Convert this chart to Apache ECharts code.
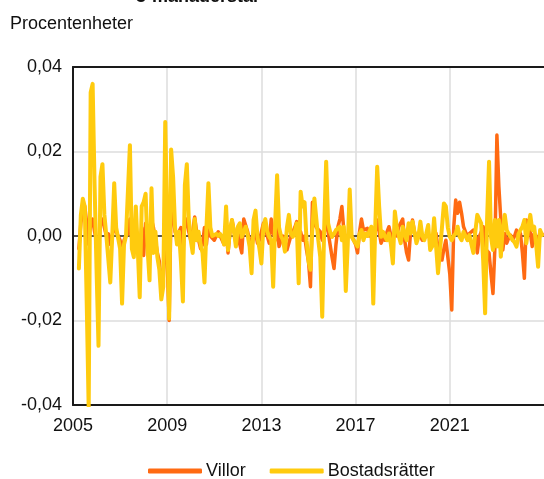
<!DOCTYPE html>
<html>
<head>
<meta charset="utf-8">
<script src="https://cdn.jsdelivr.net/npm/echarts@6/dist/echarts.min.js"></script>
<style>
  html, body { margin: 0; padding: 0; background: #fff; }
  #chart { width: 544px; height: 479px; }
</style>
</head>
<body>
<div id="chart"></div>
<script>
// Monthly observations, first month April 2005
const startYear = 2005;
const startMonth = 4;

// Villor, procentenheter
const villor = [
  -0.003, 0.003, 0.006, 0.007, 0.003, -0.002, 0.003, 0.004, 0.001, -0.001,
  -0.003, 0.003, 0.004, 0.002, 0.0, 0.0005, -0.002, 0.0, 0.003, 0.001,
  0.0, -0.001, -0.004, -0.001, 0.0, 0.0005, 0.004, -0.001, -0.002, 0.002,
  -0.001, -0.004, 0.002, -0.0046, 0.003, -0.001, -0.003, 0.004, 0.002, -0.001,
  -0.004, -0.006, -0.013, -0.01, 0.004, -0.006, -0.02, 0.008, 0.005, 0.001,
  0.0, 0.001, 0.002, -0.004, 0.003, 0.004, 0.001, -0.001, 0.001, 0.0045,
  0.001, -0.001, -0.003, -0.002, 0.002, -0.002, 0.003, 0.0, 0.0, -0.001,
  0.0, 0.001, 0.0, -0.001, -0.002, 0.002, -0.004, 0.001, 0.0038, 0.004,
  -0.001, 0.001, -0.002, -0.004, 0.004, 0.004, 0.001, 0.0014, -0.003, 0.0,
  0.001, -0.0017, -0.001, 0.001, 0.003, 0.002, 0.0, -0.0017, 0.004, 0.001,
  -0.001, 0.002, -0.0025, -0.001, 0.0, -0.002, -0.0033, -0.003, 0.0, 0.001,
  0.002, 0.0034, -0.001, 0.001, -0.001, 0.0, -0.0033, -0.006, -0.012, 0.008,
  0.003, 0.002, 0.0022, 0.001, -0.001, 0.001, 0.003, 0.001, -0.002, -0.005,
  -0.0077, -0.002, 0.0022, 0.004, 0.007, 0.0014, -0.001, 0.0, 0.0006, 0.0,
  -0.0002, -0.002, -0.004, 0.001, 0.004, 0.0014, 0.001, 0.0018, 0.0, 0.001,
  -0.0002, 0.001, 0.0038, 0.001, -0.0017, -0.0005, -0.001, 0.001, 0.0022, 0.0,
  -0.001, 0.001, 0.0, 0.0022, 0.002, 0.004, -0.001, -0.004, -0.0057, 0.001,
  0.0038, 0.001, -0.0002, -0.0002, 0.0, -0.001, -0.0005, 0.0, 0.0006, -0.001,
  0.0, 0.0, 0.0006, -0.003, -0.004, -0.0057, -0.003, -0.001, -0.001, -0.009,
  -0.0175, 0.002, 0.0085, 0.0054, 0.008, 0.0054, 0.0022, 0.001, -0.0002, 0.0006,
  0.0006, 0.0014, 0.0005, -0.004, -0.0002, 0.001, 0.0022, -0.003, -0.003, -0.004,
  -0.009, -0.0136, -0.0025, 0.0239, 0.0117, 0.0038, -0.0033, 0.0006, -0.0017, -0.0005,
  0.0002, -0.001, 0.0, 0.0014, 0.0, 0.0006, -0.004, -0.01, 0.0038, 0.003,
  0.001, -0.0025, 0.0006, -0.0002, -0.001, 0.001, 0.0005
];

// Bostadsrätter, procentenheter
const bostadsratter = [
  -0.0077, 0.005, 0.0088, 0.007, -0.016, -0.041, 0.034, 0.036, 0.012, -0.008,
  -0.026, 0.014, 0.017, 0.005, 0.0, 0.0, -0.011, 0.0, 0.0125, 0.002,
  -0.0005, -0.003, -0.016, -0.002, 0.0, 0.0, 0.0215, -0.003, -0.005, 0.007,
  -0.003, -0.0145, 0.007, 0.008, 0.01, -0.003, -0.0105, 0.0113, -0.004, 0.001,
  -0.005, -0.008, -0.015, -0.012, 0.027, 0.002, -0.0195, 0.0205, 0.014, 0.002,
  -0.002, 0.001, -0.006, -0.0155, 0.012, 0.017, 0.004, -0.001, -0.004, 0.004,
  -0.001, 0.001, -0.002, -0.004, -0.011, 0.002, 0.0125, 0.002, 0.0, 0.0,
  0.0005, 0.0, 0.0005, -0.0003, -0.002, 0.007, -0.0033, 0.0014, 0.0038, 0.001,
  -0.0025, 0.0022, 0.003, -0.0002, 0.001, 0.0022, 0.0002, -0.0025, -0.0088, 0.0038,
  0.006, -0.0002, -0.003, -0.0065, 0.0022, 0.004, 0.001, -0.0002, -0.001, -0.012,
  0.003, 0.0144, 0.002, 0.0, -0.001, -0.0037, 0.002, 0.005, 0.0006, -0.0002,
  0.001, 0.003, -0.0112, 0.0105, 0.007, 0.008, -0.001, -0.006, -0.008, 0.002,
  0.0089, 0.004, -0.001, -0.005, -0.0191, 0.002, 0.0176, 0.003, 0.001, -0.0002,
  0.0005, 0.0014, 0.001, 0.0022, -0.001, 0.0022, -0.013, -0.002, 0.011, -0.0002,
  -0.001, -0.0017, -0.0025, 0.0005, 0.0014, -0.001, 0.0006, 0.0, -0.0002, 0.0022,
  -0.016, 0.002, 0.0164, 0.007, -0.0002, 0.001, -0.0002, -0.001, 0.0006, -0.002,
  -0.0065, 0.0058, 0.002, 0.0, -0.0017, 0.0022, 0.0005, -0.001, 0.003, 0.0006,
  0.0034, 0.001, -0.0017, -0.0002, 0.0034, 0.0, -0.001, 0.0006, 0.0026, -0.0033,
  -0.0025, 0.0042, 0.0038, -0.0088, -0.0092, 0.002, 0.0077, 0.007, 0.002, -0.0002,
  -0.001, 0.0, 0.0006, 0.0022, -0.0002, -0.001, 0.001, 0.0, -0.001, 0.0002,
  -0.002, -0.004, 0.001, 0.005, 0.004, 0.003, -0.0057, -0.0183, 0.004, 0.0176,
  -0.0002, -0.0033, 0.0038, -0.0025, 0.0038, -0.0049, 0.002, 0.005, 0.0014, 0.0005,
  -0.0002, -0.001, -0.0015, -0.0025, 0.0005, 0.0014, 0.0022, 0.0038, -0.0017, 0.002,
  0.005, 0.0014, 0.0022, -0.002, -0.0073, 0.0014, 0.0002
];

const xTicks = [2005, 2009, 2013, 2017, 2021, 2025];
const yTicks = [-0.04, -0.02, 0, 0.02, 0.04];

const seriesNames = ['Villor', 'Bostadsrätter'];
const seriesColors = ['#ff6a12', '#ffcb0e'];

// Month positions as decimal years
const monthPos = villor.map((_, i) => startYear + (startMonth - 1 + i) / 12);
const toPairs = (vals) => vals.map((v, i) => [monthPos[i], v]);

const FONT = '"Liberation Sans", Arial, sans-serif';
const xMin = xTicks[0], xMax = xTicks[xTicks.length - 1];
const xStep = xTicks[1] - xTicks[0];
const yMin = yTicks[0], yMax = yTicks[yTicks.length - 1];
const yStep = yTicks[1] - yTicks[0];

const chart = echarts.init(document.getElementById('chart'), null, { renderer: 'canvas' });

chart.setOption({
  animation: false,
  backgroundColor: '#fff',
  textStyle: { fontFamily: FONT },
  graphic: [
    {
      type: 'text', left: 136, top: -12,
      style: { text: '3-månaderstal', font: 'bold 18px ' + FONT, fill: '#111' }
    },
    {
      type: 'text', left: 10, top: 15,
      style: { text: 'Procentenheter', font: '18px ' + FONT, fill: '#111' }
    }
  ],
  legend: {
    left: 143, top: 457,
    itemWidth: 54, itemHeight: 5, itemGap: 24,
    icon: 'roundRect',
    textStyle: { fontSize: 18, color: '#111', fontFamily: FONT, padding: [0, 0, 0, -1] },
    data: seriesNames
  },
  grid: { left: 73, right: -3, top: 67, bottom: 74, containLabel: false },
  xAxis: [
    {
      type: 'value', min: xMin, max: xMax, interval: xStep,
      axisLine: { show: true, onZero: false, lineStyle: { color: '#1a1a1a', width: 2 } },
      axisTick: { show: false },
      axisLabel: {
        margin: 12, fontSize: 18, color: '#111', fontFamily: FONT,
        showMaxLabel: false,
        formatter: (v) => (v >= xMax ? '' : String(v))
      },
      splitLine: {
        show: true,
        lineStyle: { color: ['transparent', '#dcdcdc', '#dcdcdc', '#dcdcdc', '#dcdcdc', 'transparent'], width: 1.5 }
      }
    },
    {
      // zero line
      type: 'value', min: xMin, max: xMax, position: 'bottom',
      axisLine: { show: true, onZero: true, lineStyle: { color: '#1a1a1a', width: 1.5 } },
      axisTick: { show: false }, axisLabel: { show: false }, splitLine: { show: false }
    },
    {
      // frame top edge
      type: 'value', min: xMin, max: xMax, position: 'top',
      axisLine: { show: true, onZero: false, lineStyle: { color: '#1a1a1a', width: 2 } },
      axisTick: { show: false }, axisLabel: { show: false }, splitLine: { show: false }
    }
  ],
  yAxis: {
    type: 'value', min: yMin, max: yMax, interval: yStep,
    axisLine: { show: true, lineStyle: { color: '#1a1a1a', width: 2 } },
    axisTick: { show: false },
    axisLabel: {
      margin: 11, fontSize: 18, color: '#111', fontFamily: FONT,
      formatter: (v) => v.toFixed(2).replace('.', ',')
    },
    splitLine: {
      show: true,
      lineStyle: { color: ['transparent', '#dcdcdc', 'transparent', '#dcdcdc', 'transparent'], width: 1.5 }
    }
  },
  series: [
    {
      name: seriesNames[0], type: 'line', data: toPairs(villor),
      symbol: 'none', color: seriesColors[0],
      lineStyle: { width: 3.5, color: seriesColors[0], join: 'round', cap: 'round' },
      z: 3
    },
    {
      name: seriesNames[1], type: 'line', data: toPairs(bostadsratter),
      symbol: 'none', color: seriesColors[1],
      lineStyle: { width: 4, color: seriesColors[1], join: 'round', cap: 'round' },
      z: 4
    }
  ]
});
</script>
</body>
</html>
